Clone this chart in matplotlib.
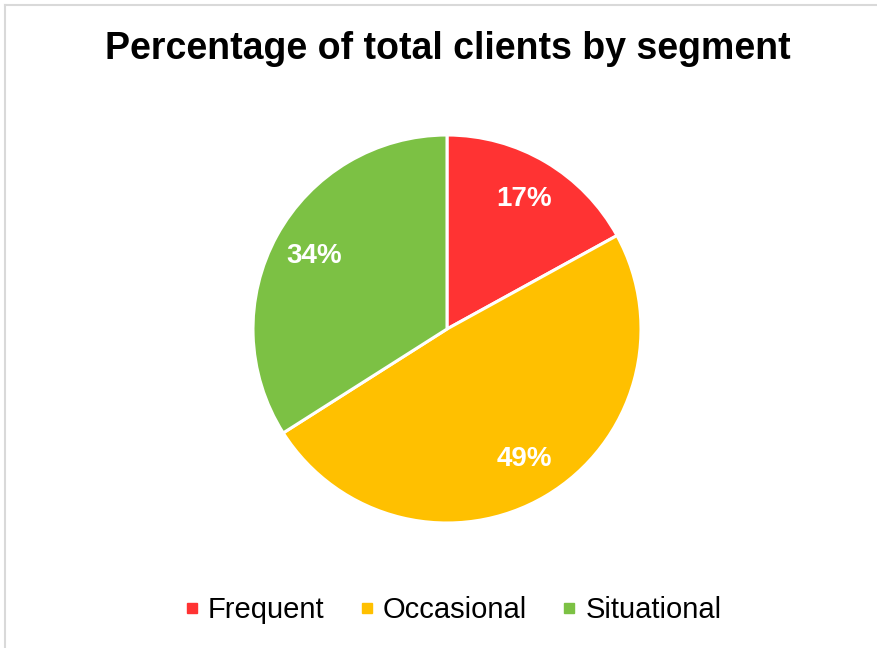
import matplotlib
matplotlib.use('Agg')
import matplotlib.pyplot as plt
from matplotlib.lines import Line2D

# client segments and their share of the total
segments = ['Frequent', 'Occasional', 'Situational']
shares = [17, 49, 34]
colors = ['#FF3333', '#FFC000', '#7CC144']

plt.rcParams['font.family'] = ['Liberation Sans', 'DejaVu Sans']

W, H = 878, 648
fig = plt.figure(figsize=(W / 100, H / 100), dpi=100)
fig.patch.set_facecolor('white')

# light chart border along the top and left edges
fig.add_artist(Line2D([5 / W, 1], [1 - 5 / H, 1 - 5 / H], color='#D9D9D9', lw=1.5))
fig.add_artist(Line2D([5 / W, 5 / W], [0, 1 - 5 / H], color='#D9D9D9', lw=1.5))

cx, cy, r = 447, 329, 194
ax = fig.add_axes([(cx - r) / W, (H - cy - r) / H, 2 * r / W, 2 * r / H])
wedges, texts, autotexts = ax.pie(
    shares, colors=colors, startangle=90, counterclock=False,
    autopct='%d%%', pctdistance=0.78,
    wedgeprops=dict(edgecolor='white', linewidth=2.2),
    textprops=dict(color='white', fontsize=20, fontweight='bold'))
ax.set_xlim(-1, 1)
ax.set_ylim(-1, 1)
ax.set_aspect('equal')
ax.axis('off')

fig.text(448 / W, 1 - 49 / H, 'Percentage of total clients by segment',
         ha='center', va='center', fontsize=27, fontweight='bold', color='black')

handles = [Line2D([], [], marker='s', linestyle='none', markersize=7.5,
                  markerfacecolor=c, markeredgecolor=c) for c in colors]
fig.legend(handles, segments, loc='center', bbox_to_anchor=(453 / W, 1 - 610 / H),
           ncol=3, frameon=False, fontsize=21, handlelength=0.5,
           handletextpad=0.3, columnspacing=1.2)

fig.savefig('out.png', dpi=100, facecolor='white')
